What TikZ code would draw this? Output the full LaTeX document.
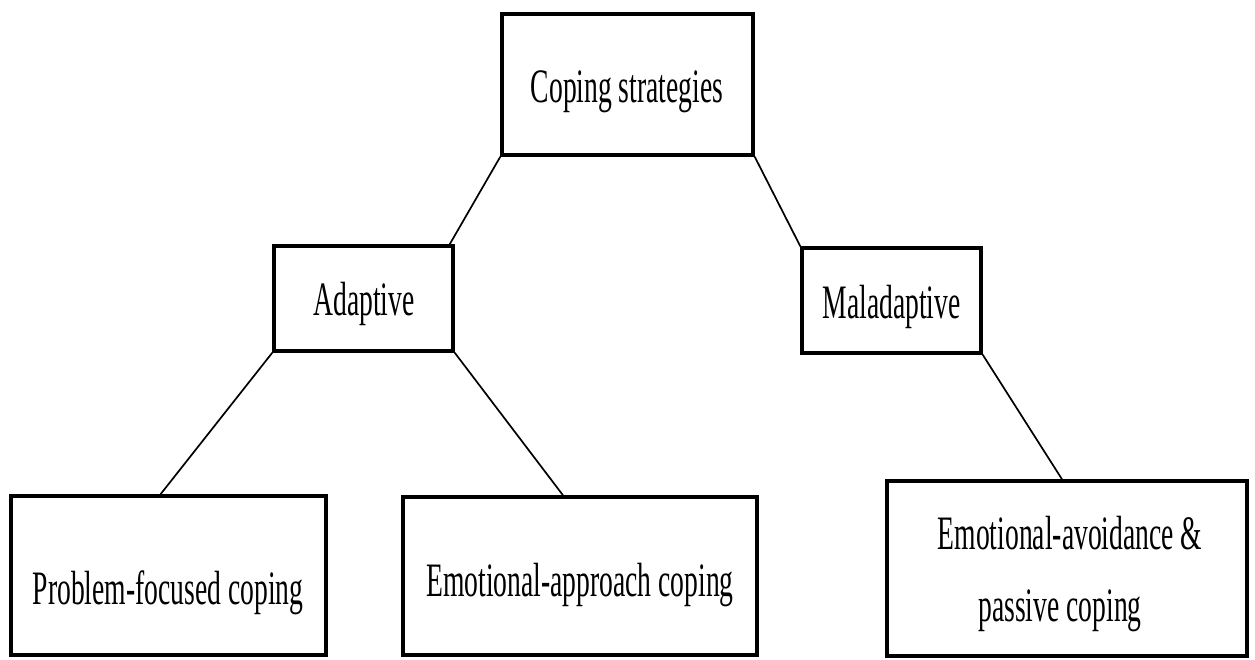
\documentclass[tikz,border=0pt]{standalone}
\usepackage{fontspec}
\newfontfamily\condserif[FakeStretch=0.575]{Liberation Serif}
\usetikzlibrary{calc}
\begin{document}
\begin{tikzpicture}[x=1pt,y=1pt,
  box/.style={draw=black, line width=3.4pt, rectangle, inner sep=0pt},
  lbl/.style={font=\condserif\fontsize{48}{72}\selectfont, inner sep=0pt, anchor=base, align=center},
  link/.style={draw=black, line width=1.7pt}]
\useasboundingbox (0,0) rectangle (1255,660);
% boxes (y = 660 - pixel y)
\node[box, minimum width=251pt, minimum height=141pt] (top) at (627.5,575.5) {};
\node[box, minimum width=179pt, minimum height=105pt] (adapt) at (363.5,361.5) {};
\node[box, minimum width=179pt, minimum height=105pt] (malad) at (891.5,359.5) {};
\node[box, minimum width=315pt, minimum height=159pt] (prob) at (168.5,84.5) {};
\node[box, minimum width=354pt, minimum height=158pt] (appr) at (580,84) {};
\node[box, minimum width=360pt, minimum height=175pt] (avoid) at (1067,91.5) {};
% labels
\node[lbl] (topt) at (627,557) {Coping strategies};
\node[lbl] (adaptt) at (364,344) {Adaptive};
\node[lbl] (maladt) at (891.5,341) {Maladaptive};
\node[lbl] (probt) at (168,55) {Problem-focused coping};
\node[lbl] (apprt) at (580,63) {Emotional-approach coping};
\node[lbl] (avoidt1) at (1070,110) {Emotional-avoidance \&};
\node[lbl] (avoidt2) at (1060,38) {passive coping};
% connectors
\draw[link] (top.south west) -- ([xshift=-5pt]adapt.north east);
\draw[link] (top.south east) -- (malad.north west);
\draw[link] (adapt.south west) -- ([xshift=-8pt]prob.north);
\draw[link] (adapt.south east) -- ([xshift=-17pt]appr.north);
\draw[link] (malad.south east) -- ([xshift=-5pt]avoid.north);
\end{tikzpicture}
\end{document}
